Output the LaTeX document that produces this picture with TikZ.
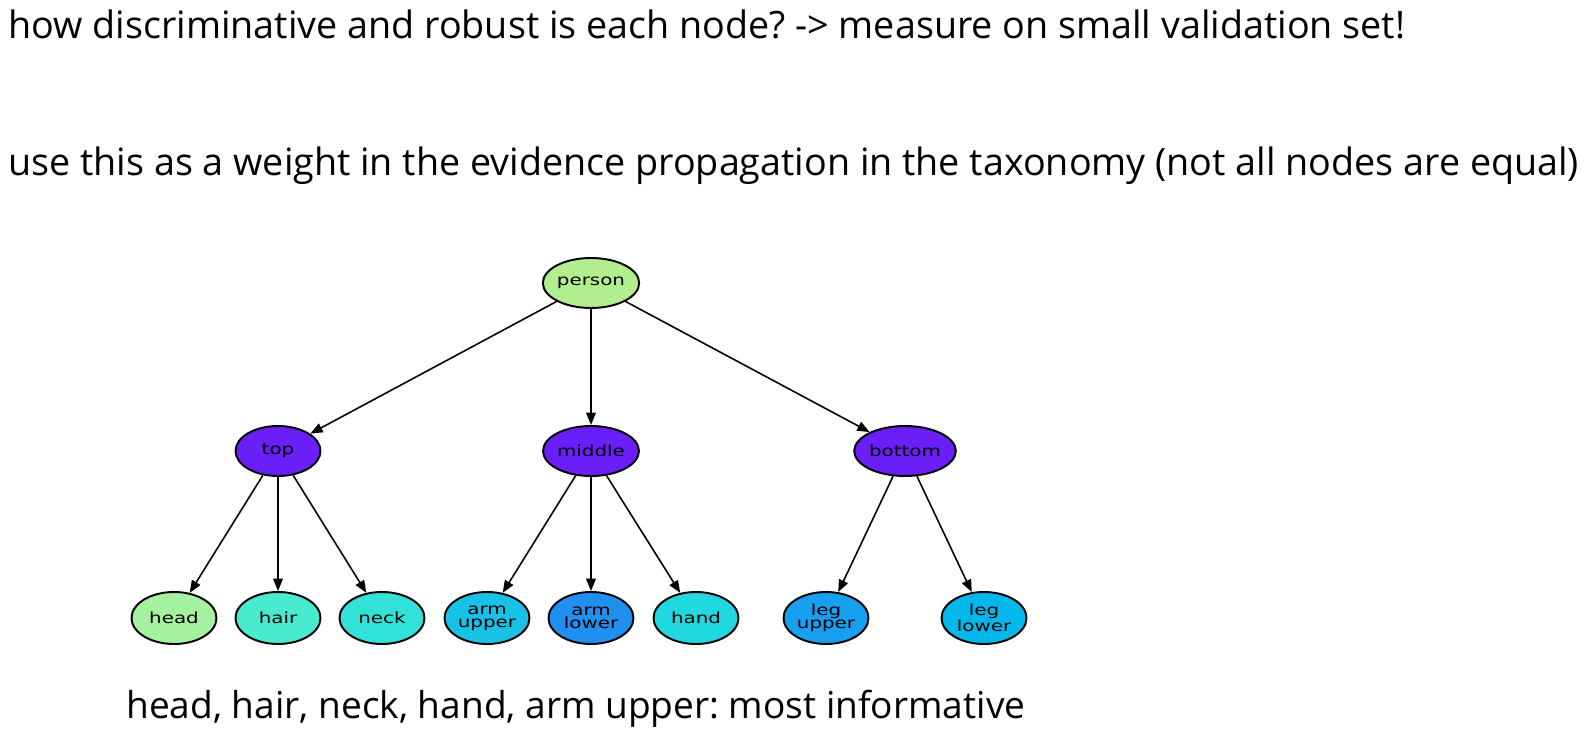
\documentclass[tikz,border=0pt]{standalone}
\usepackage{fontspec}
\setmainfont{Open Sans}
\newfontfamily\nodefont[FakeStretch=1.3]{DejaVu Sans}
\usetikzlibrary{shapes.geometric,arrows.meta}
\definecolor{cperson}{HTML}{B2EE8E}
\definecolor{cmid}{HTML}{6A1EF8}
\definecolor{chead}{HTML}{A4F2A0}
\definecolor{chair}{HTML}{48EAD0}
\definecolor{cneck}{HTML}{30E2D8}
\definecolor{carmup}{HTML}{18C2E6}
\definecolor{carmlow}{HTML}{2090F0}
\definecolor{chand}{HTML}{22D8E0}
\definecolor{clegup}{HTML}{18A0F0}
\definecolor{cleglow}{HTML}{02B8EA}
\begin{document}
\begin{tikzpicture}[x=0.02cm,y=-0.02cm,
  tnode/.style={ellipse,draw=black,line width=1.1pt,minimum width=85*0.02cm,minimum height=50*0.02cm,inner sep=0pt,align=center,font={\nodefont\fontsize{8.7}{7.5}\selectfont},text=black},
  leaf/.style={tnode,minimum height=52*0.02cm},
  edge/.style={line width=0.9pt,-{Triangle[length=7pt,width=5.5pt]}},
  caption/.style={anchor=base west,inner sep=0pt,font={\fontsize{21.45}{24}\selectfont\frenchspacing}}]
\useasboundingbox (0,0) rectangle (1585,749);
\node[caption] (t1) at (8,39) {how discriminative and robust is each node? -> measure on small validation set!};
\node[caption] (t2) at (8,176) {use this as a weight in the evidence propagation in the taxonomy (not all nodes are equal)};
\node[caption,font={\fontsize{21.1}{24}\selectfont\frenchspacing}] (t3) at (126,718) {head, hair, neck, hand, arm upper: most informative};
\node[tnode,fill=cperson] (person) at (591,283) {person};
\node[tnode,fill=cmid] (top) at (278,451) {top};
\node[tnode,fill=cmid] (middle) at (591,451) {middle};
\node[tnode,fill=cmid] (bottom) at (905,451) {bottom};
\node[leaf,fill=chead] (head) at (174,618) {head};
\node[leaf,fill=chair] (hair) at (278,618) {hair};
\node[leaf,fill=cneck] (neck) at (382,618) {neck};
\node[leaf,fill=carmup] (armup) at (487,618) {arm\\upper};
\node[leaf,fill=carmlow] (armlow) at (591,618) {arm\\lower};
\node[leaf,fill=chand] (hand) at (696,618) {hand};
\node[leaf,fill=clegup] (legup) at (826,618) {leg\\upper};
\node[leaf,fill=cleglow] (leglow) at (984,618) {leg\\lower};
\draw[edge] (person) -- (top);
\draw[edge] (person) -- (middle);
\draw[edge] (person) -- (bottom);
\draw[edge] (top) -- (head);
\draw[edge] (top) -- (hair);
\draw[edge] (top) -- (neck);
\draw[edge] (middle) -- (armup);
\draw[edge] (middle) -- (armlow);
\draw[edge] (middle) -- (hand);
\draw[edge] (bottom) -- (legup);
\draw[edge] (bottom) -- (leglow);
\end{tikzpicture}
\end{document}
